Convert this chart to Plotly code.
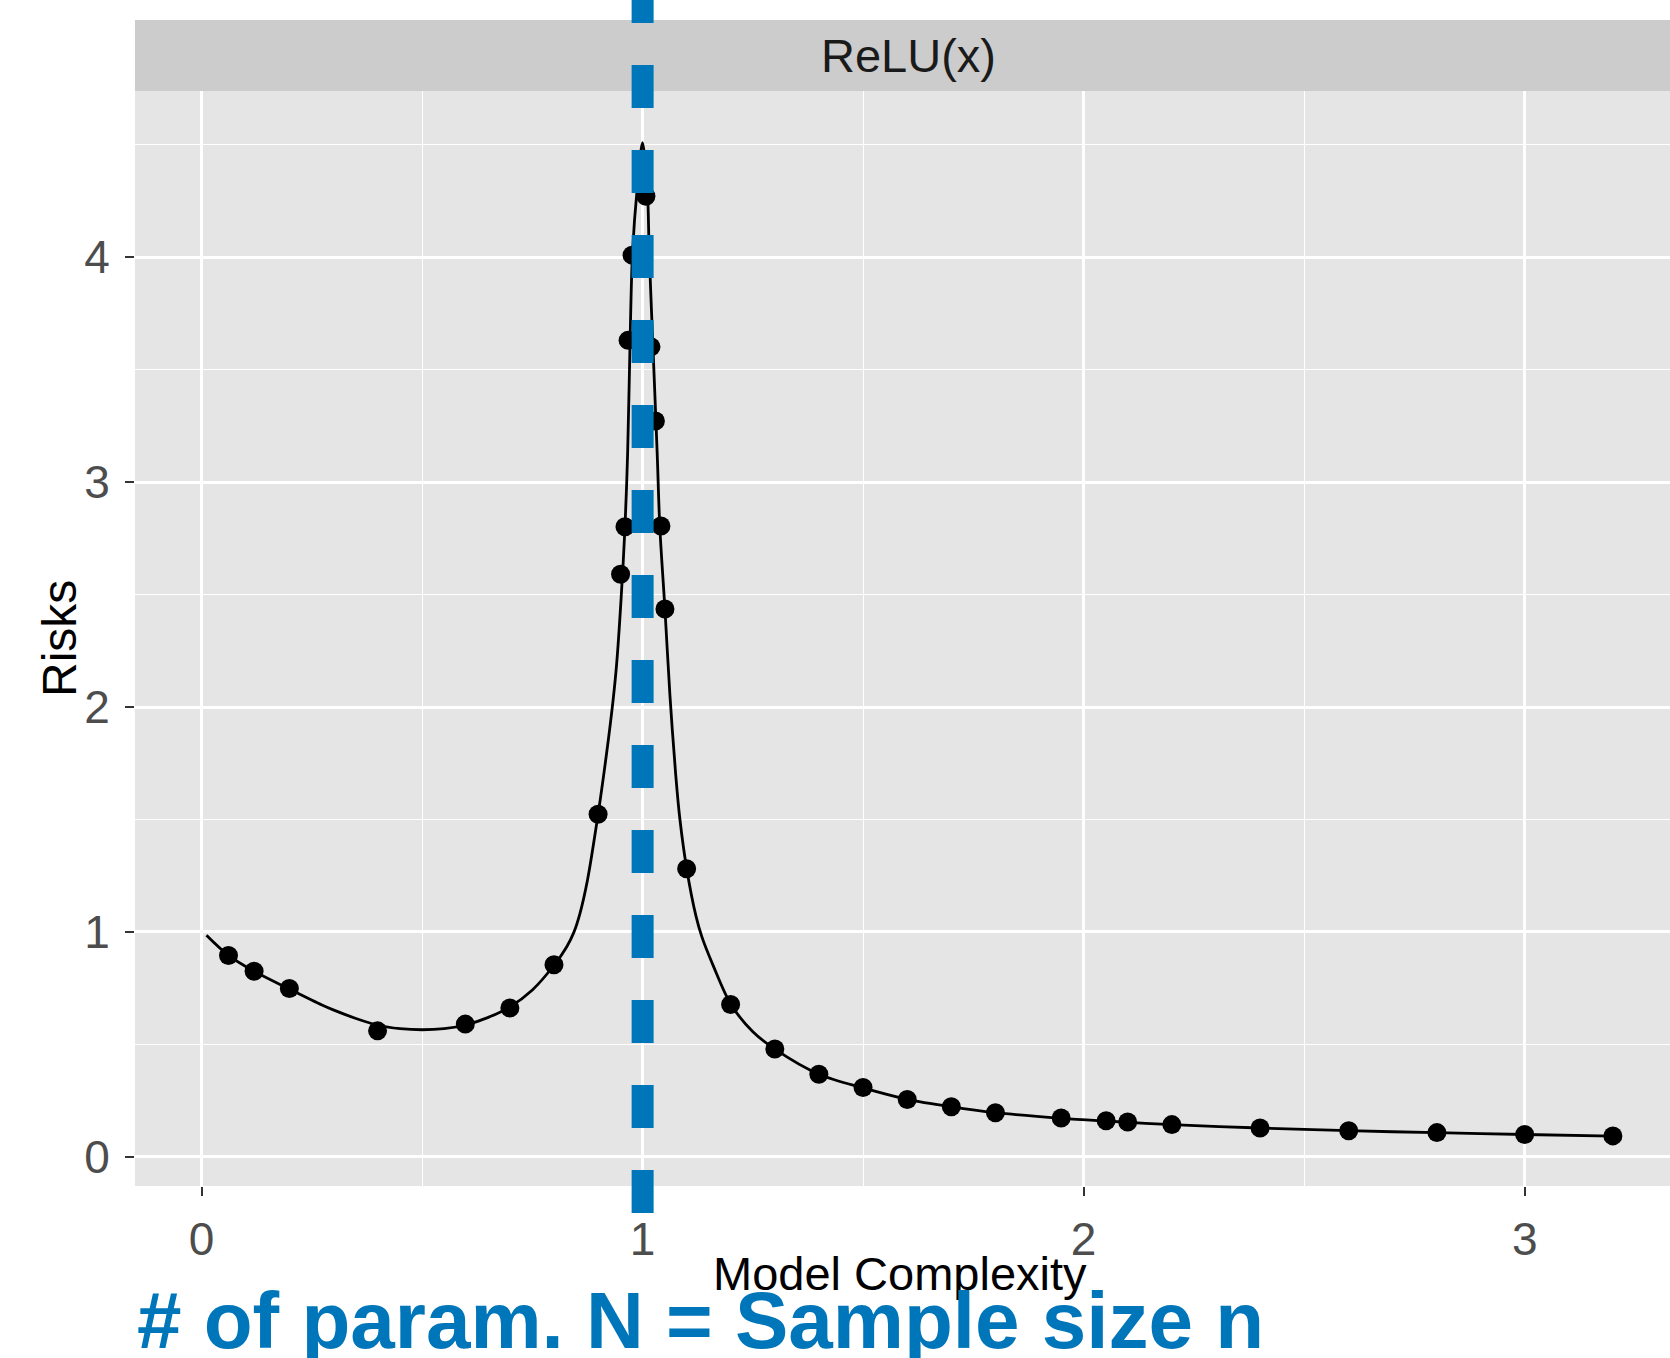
import plotly.graph_objects as go

# ---- data ----
point_x = [0.061, 0.119, 0.199, 0.399, 0.598, 0.699, 0.799, 0.899, 0.950, 0.960,
           0.967, 0.976, 1.0075, 1.019, 1.029, 1.0415, 1.0506, 1.0998, 1.1995, 1.2998,
           1.3996, 1.4998, 1.600, 1.700, 1.800, 1.949, 2.051, 2.0998, 2.200, 2.400,
           2.601, 2.801, 3.000, 3.200]
point_y = [0.895, 0.825, 0.748, 0.560, 0.590, 0.662, 0.854, 1.523, 2.591, 2.802,
           3.631, 4.010, 4.272, 3.602, 3.272, 2.805, 2.436, 1.281, 0.677, 0.479,
           0.367, 0.308, 0.255, 0.2226, 0.196, 0.1726, 0.1606, 0.155, 0.143, 0.128,
           0.116, 0.1075, 0.0987, 0.0929]

curve_x = [0.011, 0.06, 0.12, 0.2, 0.273, 0.3, 0.35, 0.4, 0.45, 0.5, 0.55, 0.6, 0.65,
           0.7, 0.75, 0.8, 0.828, 0.844, 0.858, 0.875, 0.899, 0.918, 0.933, 0.941, 0.951,
           0.96, 0.966, 0.971, 0.977, 0.988, 1.0, 1.0105, 1.015, 1.024, 1.033, 1.039,
           1.0506, 1.062, 1.075, 1.0846, 1.1, 1.121, 1.134, 1.16, 1.2, 1.25, 1.3, 1.4,
           1.5, 1.6, 1.7, 1.8, 1.95, 2.05, 2.2, 2.4, 2.6, 2.8, 3.0, 3.2]
curve_y = [0.985, 0.897, 0.824, 0.745, 0.675, 0.652, 0.615, 0.585, 0.570, 0.565, 0.570,
           0.587, 0.620, 0.668, 0.742, 0.854, 0.934, 0.998, 1.083, 1.231, 1.523, 1.79,
           2.03, 2.19, 2.476, 2.80, 3.13, 3.574, 4.018, 4.314, 4.51, 4.314, 4.018, 3.574,
           3.13, 2.80, 2.436, 2.05, 1.70, 1.50, 1.28, 1.07, 0.98, 0.85, 0.678, 0.556,
           0.479, 0.367, 0.306, 0.255, 0.222, 0.196, 0.171, 0.159, 0.143, 0.128, 0.116,
           0.107, 0.099, 0.092]

x_ticks = [0, 1, 2, 3]
y_ticks = [0, 1, 2, 3, 4]
threshold_x = 1  # N = n

facet_label = "ReLU(x)"
x_title = "Model Complexity"
y_title = "Risks"
caption = "# of param. N = Sample size n"

FONT = "Liberation Sans, Arial, Helvetica, sans-serif"
BLUE = "#0076BA"

fig = go.Figure()
fig.add_trace(go.Scatter(x=curve_x, y=curve_y, mode="lines",
                         line=dict(color="black", width=2.8, shape="spline", smoothing=0.9),
                         hoverinfo="skip", showlegend=False))
fig.add_trace(go.Scatter(x=point_x, y=point_y, mode="markers",
                         marker=dict(color="black", size=19), showlegend=False))

W, H = 1670, 1358
L, R, T, B = 135, 0, 91, 172
ph = H - T - B
pw = W - L - R

def py(pix):  # figure pixel row -> paper y
    return (H - B - pix) / ph

fig.update_layout(
    width=W, height=H,
    margin=dict(l=L, r=R, t=T, b=B, pad=0),
    paper_bgcolor="white", plot_bgcolor="#E5E5E5",
    font=dict(family=FONT, color="black"),
    xaxis=dict(range=[-0.151, 3.3295], tickvals=x_ticks, ticktext=[str(v) for v in x_ticks],
               showgrid=True, gridcolor="white", gridwidth=2.6, zeroline=False,
               ticks="outside", ticklen=9, tickwidth=2, tickcolor="#333333",
               tickfont=dict(size=46, color="#4D4D4D", family=FONT),
               ticklabelstandoff=4,
               minor=dict(dtick=0.5, tick0=0, showgrid=True, gridcolor="white", gridwidth=1.3),
               showline=False),
    yaxis=dict(range=[-0.130, 4.740], tickvals=y_ticks, ticktext=[str(v) for v in y_ticks],
               showgrid=True, gridcolor="white", gridwidth=2.6, zeroline=False,
               ticks="outside", ticklen=9, tickwidth=2, tickcolor="#333333",
               tickfont=dict(size=46, color="#4D4D4D", family=FONT),
               ticklabelstandoff=6,
               minor=dict(dtick=0.5, tick0=0, showgrid=True, gridcolor="white", gridwidth=1.3),
               showline=False),
)

# axis titles
fig.add_annotation(text=x_title, xref="paper", yref="paper",
                   x=(900 - L) / pw, y=py(1302), xanchor="center", yanchor="bottom",
                   showarrow=False, font=dict(size=47, color="black", family=FONT))
fig.add_annotation(text=y_title, xref="paper", yref="paper", textangle=-90,
                   x=(59 - L) / pw, y=py(639), xanchor="center", yanchor="middle",
                   showarrow=False, font=dict(size=48, color="black", family=FONT))

# facet strip
fig.add_shape(type="rect", xref="paper", yref="paper", x0=0, x1=1, y0=1, y1=py(20),
              fillcolor="#CCCCCC", line=dict(width=0), layer="below")
fig.add_annotation(text=facet_label, xref="paper", yref="paper",
                   x=(908.5 - L) / pw, y=py(55.5), xanchor="center", yanchor="middle",
                   showarrow=False, font=dict(size=47, color="#1A1A1A", family=FONT))

# blue dashed vertical line at N = n
fig.add_shape(type="line", xref="x", yref="paper", x0=threshold_x, x1=threshold_x,
              y0=py(1213), y1=py(-60), line=dict(color=BLUE, width=22, dash="43px,42px"),
              layer="above")

# caption
fig.add_annotation(text="<b>" + caption + "</b>", xref="paper", yref="paper",
                   x=0, y=py(1367), xanchor="left", yanchor="bottom", showarrow=False,
                   font=dict(size=80, color=BLUE, family=FONT))

fig.write_html("out.html", config={"displayModeBar": False})
